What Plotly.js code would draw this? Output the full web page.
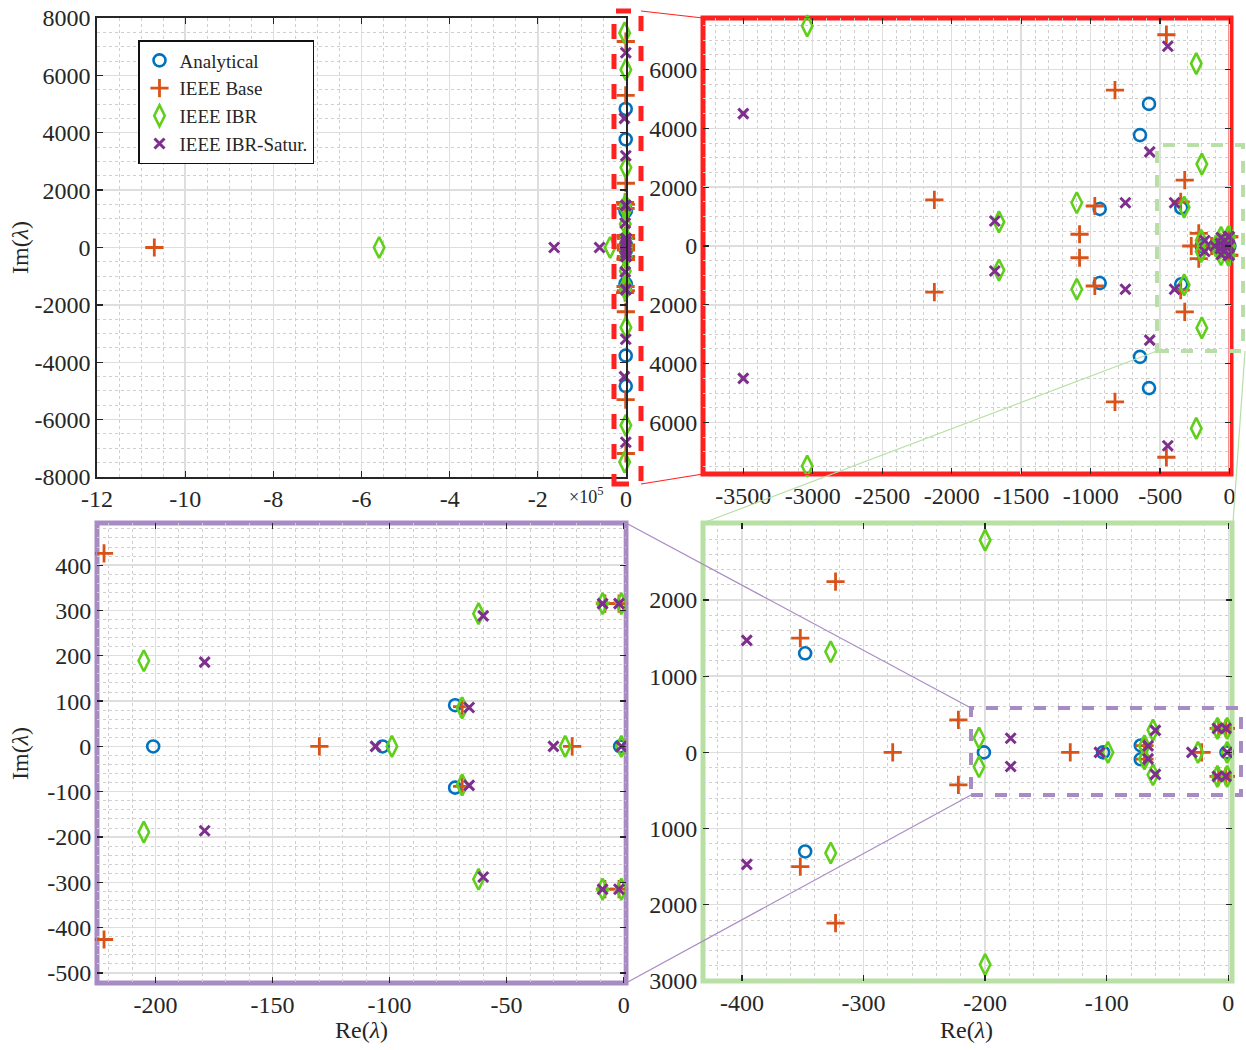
<!DOCTYPE html>
<html>
<head>
<meta charset="utf-8">
<script src="https://cdn.plot.ly/plotly-3.0.1.min.js"></script>
<style>html,body{margin:0;padding:0;background:#fff;}#chart{width:1246px;height:1050px;}</style>
</head>
<body>
<div id="chart"></div>
<script>
// ---------- data (eigenvalues) ----------
const seriesNames = ["Analytical", "IEEE Base", "IEEE IBR", "IEEE IBR-Satur."];

const analyticalRe = [-580, -580, -645, -645, -935, -935, -348, -348, -201, -103, -72, -72, -1.5];
const analyticalIm = [4830, -4830, 3770, -3770, 1260, -1260, 1300, -1300, 0, 0, 91, -91, 0];

const ieeeBaseRe = [-1.07e6, -2125, -2125, -1080, -1080, -970, -970, -825, -825, -455, -455, -352, -352, -323, -323, -276, -222, -222, -130, -69, -69, -22, -8, -8, -2, -2];
const ieeeBaseIm = [0, 1570, -1570, 400, -400, 1360, -1360, 5300, -5300, 7180, -7180, 1500, -1500, 2240, -2240, 0, 426, -426, 0, 88, -88, 0, 315, -315, 315, -315];

const ieeeIbrRe = [-5.6e5, -3.6e4, -3040, -3040, -1660, -1660, -1100, -1100, -327, -327, -240, -240, -200, -200, -205, -205, -99, -69, -69, -62, -62, -25, -9, -9, -1, -1, -1];
const ieeeIbrIm = [0, 0, 7480, -7480, 820, -820, 1470, -1470, 1320, -1320, 6200, -6200, 2785, -2785, 189, -189, 0, 85, -85, 293, -293, 0, 315, -315, 315, -315, 0];

const ieeeSaturRe = [-1.63e5, -6.0e4, -3500, -3500, -1690, -1690, -750, -750, -575, -575, -445, -445, -396, -396, -179, -179, -106, -66, -66, -60, -60, -30, -9, -9, -2, -2, -1];
const ieeeSaturIm = [0, 0, 4500, -4500, 850, -850, 1470, -1470, 3200, -3200, 6790, -6790, 1470, -1470, 186, -186, 0, 86, -86, 288, -288, 0, 315, -315, 315, -315, 0];

// tick labels
const tlXTicks = [-12e5, -10e5, -8e5, -6e5, -4e5, -2e5, 0];
const tlXLabels = ["-12", "-10", "-8", "-6", "-4", "-2", "0"];
const tlYTicks = [-8000, -6000, -4000, -2000, 0, 2000, 4000, 6000, 8000];
const trXTicks = [-3500, -3000, -2500, -2000, -1500, -1000, -500, 0];
const trYTicks = [-6000, -4000, -2000, 0, 2000, 4000, 6000];
const trYLabels = ["6000", "4000", "2000", "0", "2000", "4000", "6000"];
const blXTicks = [-200, -150, -100, -50, 0];
const blYTicks = [-500, -400, -300, -200, -100, 0, 100, 200, 300, 400];
const brXTicks = [-400, -300, -200, -100, 0];
const brYTicks = [-3000, -2000, -1000, 0, 1000, 2000];
const brYLabels = ["3000", "2000", "1000", "0", "1000", "2000"];

// ---------- styling ----------
const W = 1246, H = 1050;
const X = p => p / W;
const Y = p => 1 - p / H;
const serif = "Liberation Serif";
const txt = "#262626";
const RED = "#FF2020", PURPLE = "#A98BC4", LGREEN = "#B8E0A4";

const styles = [
  {symbol: "circle-open", size: 12, color: "#0072BD", lw: 2.6},
  {symbol: "cross-thin-open", size: 13, color: "#D95319", lw: 2.8},
  {symbol: "diamond-tall-open", size: 15, color: "#5FCF1A", lw: 2.6},
  {symbol: "x-thin-open", size: 10, color: "#7E2F8E", lw: 3}
];
const allRe = [analyticalRe, ieeeBaseRe, ieeeIbrRe, ieeeSaturRe];
const allIm = [analyticalIm, ieeeBaseIm, ieeeIbrIm, ieeeSaturIm];

const panels = [
  {xa: "x", ya: "y", xr: [-12e5, 0], yr: [-8000, 8000]},
  {xa: "x2", ya: "y2", xr: [-3790, 10], yr: [-7750, 7750]},
  {xa: "x3", ya: "y3", xr: [-225, 1], yr: [-522, 493]},
  {xa: "x4", ya: "y4", xr: [-432, 3], yr: [-3000, 3010]}
];

const traces = [];
panels.forEach((p, pi) => {
  seriesNames.forEach((name, si) => {
    const xs = [], ys = [];
    const re = allRe[si], im = allIm[si];
    const xtol = (p.xr[1] - p.xr[0]) * 0.004;
    for (let i = 0; i < re.length; i++) {
      if (re[i] >= p.xr[0] - xtol && re[i] <= p.xr[1] + xtol && im[i] >= p.yr[0] && im[i] <= p.yr[1]) {
        xs.push(re[i]); ys.push(im[i]);
      }
    }
    const s = styles[si];
    traces.push({
      type: "scatter", mode: "markers", x: xs, y: ys, name: name,
      xaxis: p.xa, yaxis: p.ya, showlegend: pi === 0,
      cliponaxis: false, hoverinfo: "x+y",
      marker: {symbol: s.symbol, size: s.size, color: s.color, line: {color: s.color, width: s.lw}}
    });
  });
});

function axis(dom, range, tv, tt, minorDtick, anchor, lineColor, lineW) {
  return {
    domain: dom, range: range, anchor: anchor, automargin: false,
    tickmode: "array", tickvals: tv, ticktext: tt || tv.map(v => String(v)),
    ticks: "inside", ticklen: 6, tickwidth: 1.3, tickcolor: txt,
    showline: true, linecolor: lineColor, linewidth: lineW, mirror: "allticks",
    showgrid: true, gridcolor: "#dedede", gridwidth: 1.4,
    zeroline: false,
    tickfont: {family: serif, size: 24, color: txt},
    minor: {dtick: minorDtick, tick0: 0, showgrid: true, gridcolor: "#cfcfcf", griddash: "dot", gridwidth: 1, ticks: ""}
  };
}

const layout = {
  width: W, height: H,
  margin: {l: 0, r: 0, t: 0, b: 0},
  font: {family: serif, size: 22, color: txt},
  paper_bgcolor: "#ffffff", plot_bgcolor: "rgba(0,0,0,0)",
  showlegend: true,
  legend: {
    x: X(138), y: Y(40), xanchor: "left", yanchor: "top",
    bgcolor: "#ffffff", bordercolor: "#111", borderwidth: 1.5,
    font: {family: serif, size: 19, color: txt},
    tracegroupgap: 0, itemwidth: 30
  },
  xaxis: axis([X(97), X(626)], panels[0].xr, tlXTicks, tlXLabels, 0.5e5, "y", txt, 1.6),
  yaxis: axis([Y(477), Y(18)], panels[0].yr, tlYTicks, null, 500, "x", txt, 1.6),
  xaxis2: axis([X(703), X(1231)], panels[1].xr, trXTicks, null, 100, "y2", RED, 1),
  yaxis2: axis([Y(474), Y(18)], panels[1].yr, trYTicks, trYLabels, 500, "x2", RED, 1),
  xaxis3: axis([X(97), X(626)], panels[2].xr, blXTicks, null, 10, "y3", PURPLE, 1),
  yaxis3: axis([Y(983), Y(523)], panels[2].yr, blYTicks, null, 20, "x3", PURPLE, 1),
  xaxis4: axis([X(703), X(1232)], panels[3].xr, brXTicks, null, 20, "y4", LGREEN, 1),
  yaxis4: axis([Y(981), Y(523)], panels[3].yr, brYTicks, brYLabels, 200, "x4", LGREEN, 1),
  shapes: [
    // solid frames of zoomed panels
    {type: "rect", xref: "paper", yref: "paper", x0: X(703), x1: X(1231), y0: Y(474), y1: Y(18), line: {color: RED, width: 5}, layer: "below"},
    {type: "rect", xref: "paper", yref: "paper", x0: X(97), x1: X(626), y0: Y(983), y1: Y(523), line: {color: PURPLE, width: 5}, layer: "below"},
    {type: "rect", xref: "paper", yref: "paper", x0: X(703), x1: X(1232), y0: Y(981), y1: Y(523), line: {color: LGREEN, width: 5}, layer: "below"},
    // dashed zoom selections
    {type: "rect", xref: "paper", yref: "paper", x0: X(614), x1: X(641), y0: Y(484), y1: Y(11), line: {color: RED, width: 5, dash: "dash"}},
    {type: "rect", xref: "paper", yref: "paper", x0: X(1157), x1: X(1243), y0: Y(351), y1: Y(145), line: {color: LGREEN, width: 4, dash: "dash"}},
    {type: "rect", xref: "paper", yref: "paper", x0: X(971), x1: X(1241), y0: Y(795), y1: Y(708), line: {color: PURPLE, width: 4, dash: "dash"}},
    // connector lines
    {type: "line", xref: "paper", yref: "paper", x0: X(641), y0: Y(11), x1: X(703), y1: Y(18), line: {color: RED, width: 1.2}},
    {type: "line", xref: "paper", yref: "paper", x0: X(641), y0: Y(484), x1: X(703), y1: Y(474), line: {color: RED, width: 1.2}},
    {type: "line", xref: "paper", yref: "paper", x0: X(1157), y0: Y(351), x1: X(703), y1: Y(523), line: {color: LGREEN, width: 1.2}},
    {type: "line", xref: "paper", yref: "paper", x0: X(1245), y0: Y(351), x1: X(1233), y1: Y(523), line: {color: LGREEN, width: 1.2}},
    {type: "line", xref: "paper", yref: "paper", x0: X(971), y0: Y(708), x1: X(626), y1: Y(523), line: {color: PURPLE, width: 1.2}},
    {type: "line", xref: "paper", yref: "paper", x0: X(971), y0: Y(795), x1: X(626), y1: Y(983), line: {color: PURPLE, width: 1.2}}
  ],
  annotations: [
    {xref: "paper", yref: "paper", x: X(20), y: Y(247), text: "Im(<i>λ</i>)", textangle: -90, showarrow: false, xanchor: "center", yanchor: "middle", font: {family: serif, size: 24, color: txt}},
    {xref: "paper", yref: "paper", x: X(20), y: Y(753), text: "Im(<i>λ</i>)", textangle: -90, showarrow: false, xanchor: "center", yanchor: "middle", font: {family: serif, size: 24, color: txt}},
    {xref: "paper", yref: "paper", x: X(361), y: Y(1030), text: "Re(<i>λ</i>)", showarrow: false, xanchor: "center", yanchor: "middle", font: {family: serif, size: 24, color: txt}},
    {xref: "paper", yref: "paper", x: X(967), y: Y(1030), text: "Re(<i>λ</i>)", showarrow: false, xanchor: "center", yanchor: "middle", font: {family: serif, size: 24, color: txt}},
    {xref: "paper", yref: "paper", x: X(586), y: Y(495), text: "×10<sup>5</sup>", showarrow: false, xanchor: "center", yanchor: "middle", font: {family: serif, size: 18, color: txt}}
  ]
};

Plotly.newPlot("chart", traces, layout, {displayModeBar: false, staticPlot: true});
</script>
</body>
</html>
